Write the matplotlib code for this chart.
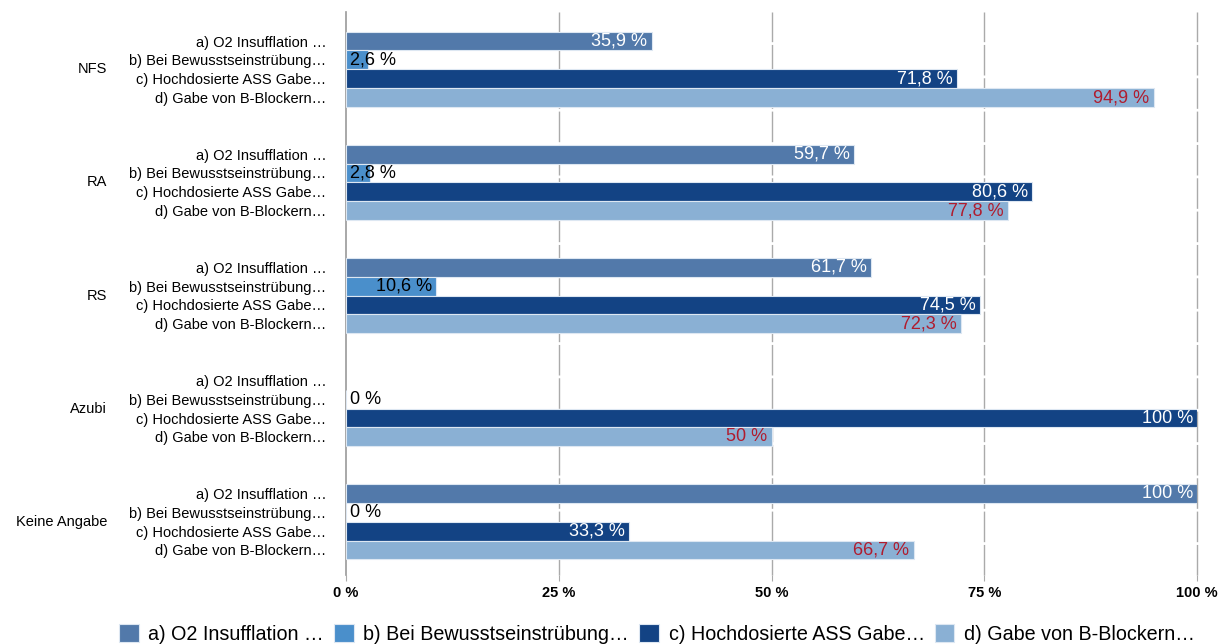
import matplotlib
matplotlib.use("Agg")
import matplotlib.pyplot as plt
import matplotlib.transforms as mtrans
import numpy as np

plt.rcParams['font.family'] = ['Liberation Sans', 'DejaVu Sans']

groups = ['NFS', 'RA', 'RS', 'Azubi', 'Keine Angabe']
series = ['a) O2 Insufflation …', 'b) Bei Bewusstseinstrübung…',
          'c) Hochdosierte ASS Gabe…', 'd) Gabe von B-Blockern…']
vals_a = [35.9, 59.7, 61.7, np.nan, 100]
vals_b = [2.6, 2.8, 10.6, 0, 0]
vals_c = [71.8, 80.6, 74.5, 100, 33.3]
vals_d = [94.9, 77.8, 72.3, 50, 66.7]
xticks = [0, 25, 50, 75, 100]
xticklabels = ['0 %', '25 %', '50 %', '75 %', '100 %']

colors = ['#5279aa', '#4a8fcb', '#134384', '#8ab0d4']
label_colors = ['white', 'black', 'white', '#b01c2e']

fig = plt.figure(figsize=(12.29, 6.44), dpi=100)
ax = fig.add_axes([346 / 1229, 1 - 575 / 644, (1197 - 346) / 1229, 563 / 644])

step = 6
all_vals = [vals_a, vals_b, vals_c, vals_d]
ypos, ylabels = [], []
for g in range(len(groups)):
    for k in range(4):
        ypos.append(g * step + k)
        ylabels.append(series[k])

for k, vals in enumerate(all_vals):
    ys = [g * step + k for g in range(len(groups))]
    for g, v in enumerate(vals):
        if np.isnan(v):
            continue
        ax.barh(ys[g], v, height=1.0, color=colors[k], edgecolor='#dde7f2',
                linewidth=0.8, zorder=3, label=series[k] if g == 0 else None)
        txt = (str(int(v)) if float(v).is_integer() else f"{v:.1f}".replace('.', ',')) + ' %'
        if v < 8:
            ax.annotate(txt, (0, ys[g]), xytext=(3, 0), textcoords='offset points',
                        ha='left', va='center', fontsize=13, color=label_colors[k], zorder=4)
        else:
            ax.annotate(txt, (v, ys[g]), xytext=(-3, 0), textcoords='offset points',
                        ha='right', va='center', fontsize=13, color=label_colors[k], zorder=4)

ax.set_xlim(0, 100)
ax.set_ylim(27 + 25 / 18.85, -29 / 18.85)
ax.set_yticks(ypos)
ax.set_yticklabels(ylabels, fontsize=10.5)
ax.tick_params(axis='y', length=0, pad=14)
ax.set_xticks(xticks)
ax.set_xticklabels(xticklabels, fontsize=10.5, fontweight='bold')
ax.tick_params(axis='x', length=4, color='#aaaaaa', pad=4)

for x in xticks[1:]:
    ax.axvline(x, color='#aaaaaa', linewidth=1.0, linestyle=(0, (22, 2)),
               zorder=1, clip_on=False)
for s in ['top', 'right', 'bottom']:
    ax.spines[s].set_visible(False)
ax.spines['left'].set_color('#999999')
ax.spines['left'].set_linewidth(1.2)

trans = mtrans.blended_transform_factory(fig.transFigure, ax.transData)
for g, name in enumerate(groups):
    ax.text(107 / 1229, g * step + 1.5, name, transform=trans, ha='right',
            va='center', fontsize=10.5)

fig.legend(loc='lower left', bbox_to_anchor=(107 / 1229, -0.018), ncol=4,
           frameon=False, fontsize=14.2, handlelength=1.0, handleheight=1.0,
           handletextpad=0.5, columnspacing=0.5, borderaxespad=0.2)

fig.savefig('out.png', dpi=100)
